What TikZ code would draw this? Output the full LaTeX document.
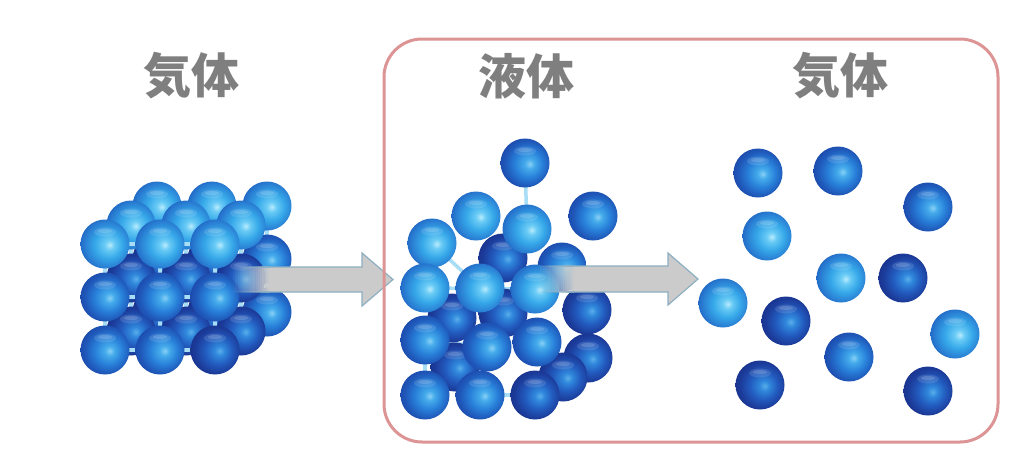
\documentclass[tikz,border=0pt]{standalone}
\usepackage{fontspec}
\newfontfamily\cjk{Noto Sans CJK JP}
\definecolor{labgray}{HTML}{7F7F7F}
\definecolor{framec}{HTML}{DD9495}
\definecolor{arrfill}{HTML}{CBCBCB}
\definecolor{arredge}{HTML}{8DAFC2}
\definecolor{stickc}{HTML}{A8DDF6}
\definecolor{L0}{HTML}{B8EBFD}
\definecolor{L1}{HTML}{6ACBF5}
\definecolor{L2}{HTML}{36A8E9}
\definecolor{L3}{HTML}{2A80D4}
\definecolor{L4}{HTML}{2064C2}
\definecolor{M0}{HTML}{88D0F5}
\definecolor{M1}{HTML}{45ABEB}
\definecolor{M2}{HTML}{2880D9}
\definecolor{M3}{HTML}{1F58B9}
\definecolor{M4}{HTML}{1B48AA}
\definecolor{D0}{HTML}{5AAEEA}
\definecolor{D1}{HTML}{3088DC}
\definecolor{D2}{HTML}{225BBE}
\definecolor{D3}{HTML}{1C3C9B}
\definecolor{D4}{HTML}{19328C}
\pgfdeclareradialshading{ballL}{\pgfpoint{5bp}{-1bp}}{color(0bp)=(L0); color(5bp)=(L1); color(14bp)=(L2); color(23bp)=(L3); color(29bp)=(L4); color(50bp)=(L4)}
\pgfdeclareradialshading{ballM}{\pgfpoint{5bp}{-1bp}}{color(0bp)=(M0); color(5bp)=(M1); color(14bp)=(M2); color(23bp)=(M3); color(29bp)=(M4); color(50bp)=(M4)}
\pgfdeclareradialshading{ballD}{\pgfpoint{5bp}{-1bp}}{color(0bp)=(D0); color(5bp)=(D1); color(14bp)=(D2); color(23bp)=(D3); color(29bp)=(D4); color(50bp)=(D4)}
\tikzset{
  sph/.style={circle, inner sep=0pt, minimum size=49pt, draw=none, shade, shading=ball#1,
    path picture={\begin{scope}[shift={(path picture bounding box.center)},rotate=40]
      \fill[white,opacity=0.12] (0pt,12pt) ellipse (11pt and 4.5pt);
      \fill[white,opacity=0.15] (0pt,13pt) ellipse (7pt and 2pt);\end{scope}}},
  stick/.style={stickc, line width=3.5pt},
  lab/.style={font=\cjk\bfseries\fontsize{48}{48}\selectfont, text=labgray, inner sep=0pt},
  arrbody/.style={fill=arrfill, draw=none},
  arrline/.style={draw=arredge, line width=1.2pt},
  frame/.style={draw=framec, line width=3pt, rounded corners=38pt}
}
\begin{document}
\begin{tikzpicture}[x=1pt,y=-1pt]
\useasboundingbox[fill=white] (0,0) rectangle (1024,467);
% labels
\node[lab] (t1) at (191,76) {気体};
\node[lab] (t2) at (526,76) {液体};
\node[lab] (t3) at (840,76) {気体};
% cube (solid)
\foreach \l in {0,1,2}{\foreach \r in {0,1,2}{\foreach \c in {0,1,2}{
  \coordinate (k-\l-\r-\c) at ({105+55*\c+26*\l},{244+53*\r-19*\l});}}}
\foreach \r in {0,1,2}{\foreach \c in {0,1,2}{
  \draw[stick] (k-0-\r-\c) -- (k-2-\r-\c);}}
\foreach \l/\list in {2/{0/0/L,0/1/L,0/2/L,1/0/D,1/1/D,1/2/M,2/0/D,2/1/D,2/2/M},
                     1/{0/0/L,0/1/L,0/2/L,1/0/D,1/1/D,1/2/D,2/0/D,2/1/D,2/2/D},
                     0/{0/0/L,0/1/L,0/2/L,1/0/M,1/1/M,1/2/M,2/0/M,2/1/M,2/2/D}}{
  \foreach \r in {0,1,2}{\draw[stick] (k-\l-\r-0) -- (k-\l-\r-2);}
  \foreach \c in {0,1,2}{\draw[stick] (k-\l-0-\c) -- (k-\l-2-\c);}
  \foreach \r/\c/\s in \list {\node[sph=\s] (s\l-\r-\c) at (k-\l-\r-\c) {};}
}
% arrow 1 (faded tail)
\foreach \i in {0,...,15}{
  \pgfmathsetmacro{\xa}{233+2.25*\i}
  \pgfmathsetmacro{\op}{(\i+0.5)/16}
  \fill[arrfill, opacity=\op] (\xa,267) rectangle ({\xa+2.35},292);
  \draw[arredge, line width=1.2pt, opacity=\op] (\xa,267) -- ({\xa+2.25},267) (\xa,292) -- ({\xa+2.25},292);
}
\path[arrbody] (269,267) -- (362,267) -- (362,253) -- (393,279.5) -- (362,306) -- (362,292) -- (269,292) -- cycle;
\draw[arrline] (269,267) -- (362,267) -- (362,253) -- (393,279.5) -- (362,306) -- (362,292) -- (269,292);
% liquid
\foreach \n/\x/\y in {a/525/163, b/527/229, c/432/243, d/480/288, e/587/310, f/588/358,
   g/425/340, h/487/347, i/425/395, j/425/288, k/535/289, m/480/395, n/535/395}{
  \coordinate (q\n) at (\x,\y);}
\draw[stick] (qa) -- (qb);
\draw[stick] (qc) -- (qd);
\draw[stick] (qe) -- (qf);
\draw[stick] (qg) -- (qh);
\draw[stick] (qg) -- (qi);
\draw[stick] (qj) -- (qk);
\draw[stick] (qm) -- (qn);
\foreach \n/\x/\y/\s in {l1/503/258/D, l2/562/267/M, l3/452/318/D, l4/503/313/D, l5/455/367/D,
   l6/587/310/D, l7/588/358/D, l8/563/377/D,
   l9/525/163/M, l10/476/216/L, l11/593/216/M, l12/527/229/L, l13/432/243/L,
   l14/425/288/L, l15/480/288/L, l16/535/289/L, l17/425/340/M, l18/487/347/M, l19/537/342/M,
   l20/425/395/M, l21/480/395/M, l22/535/395/D}{
  \node[sph=\s] (\n) at (\x,\y) {};}
% gas
\foreach \n/\x/\y/\s in {g1/758/173/M, g2/838/171/M, g3/928/207/M, g4/767/236/L, g5/723/303/L,
   g6/841/278/L, g7/903/278/D, g8/786/321/D, g9/955/334/L, g10/849/357/M, g11/760/385/D, g12/928/391/D}{
  \node[sph=\s] (\n) at (\x,\y) {};}
% arrow 2 (faded tail)
\foreach \i in {0,...,15}{
  \pgfmathsetmacro{\xa}{538+2.25*\i}
  \pgfmathsetmacro{\op}{(\i+0.5)/16}
  \fill[arrfill, opacity=\op] (\xa,266) rectangle ({\xa+2.35},292);
  \draw[arredge, line width=1.2pt, opacity=\op] (\xa,266) -- ({\xa+2.25},266) (\xa,292) -- ({\xa+2.25},292);
}
\path[arrbody] (574,266) -- (668,266) -- (668,253) -- (698,279) -- (668,305) -- (668,292) -- (574,292) -- cycle;
\draw[arrline] (574,266) -- (668,266) -- (668,253) -- (698,279) -- (668,305) -- (668,292) -- (574,292);
% frame
\draw[frame] (384,39) rectangle (998,442);
\end{tikzpicture}
\end{document}
